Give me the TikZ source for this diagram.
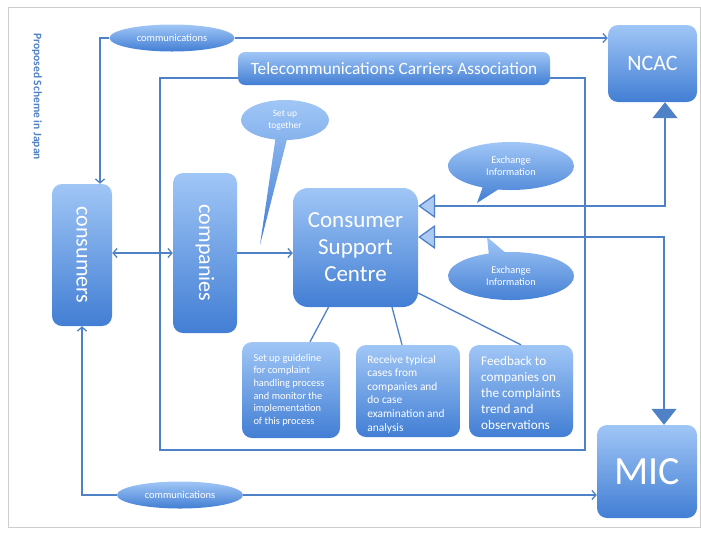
\documentclass[tikz,border=0pt]{standalone}
\usepackage{fontspec}
\setmainfont{Carlito}
\usetikzlibrary{arrows.meta,shapes.callouts,shapes.geometric,calc}
\definecolor{boxtop}{RGB}{160,198,246}
\definecolor{boxbot}{RGB}{66,126,212}
\definecolor{ln}{RGB}{79,129,199}
\definecolor{trifill}{RGB}{172,202,242}
\definecolor{framec}{RGB}{205,205,205}
\begin{document}
\begin{tikzpicture}[x=1pt,y=-1pt,
  box/.style={rounded corners=10pt, top color=boxtop, bottom color=boxbot, draw=none, text=white, inner sep=0pt},
  bub/.style={ellipse callout, top color=boxtop, bottom color=boxbot, text=white, inner sep=0pt, align=center},
  oval/.style={ellipse, top color=boxtop, bottom color=boxbot, text=white, inner sep=0pt},
  cn/.style={draw=ln, line width=1.3pt},
  arr/.style={cn, -{Straight Barb[length=4pt,width=9pt,line width=1.3pt]}},
  dbl/.style={cn, {Straight Barb[length=4pt,width=9pt,line width=1.3pt]}-{Straight Barb[length=4pt,width=9pt,line width=1.3pt]}},
  bigtri/.style={cn, {Triangle[open,length=17pt,width=24pt,fill=trifill,line width=1.3pt]}-{Triangle[length=16pt,width=25pt,fill=ln]}},
  small/.style={text=white, align=left, inner sep=0pt}
]
\useasboundingbox (0,0) rectangle (701,539);
\draw[framec, line width=1pt] (8,7) rectangle (700,527);

% side title
\node[rotate=-90, anchor=west, text=ln, inner sep=0pt, font=\fontsize{11.5}{13}\selectfont\bfseries] (title) at (37,33) {Proposed Scheme in Japan};

% TCA frame
\draw[cn] (160,78) rectangle (585,450);

% main boxes
\node[box, minimum width=89pt, minimum height=77pt, font=\fontsize{22}{26}\selectfont] (ncac) at (652.5,63.5) {NCAC};
\node[box, minimum width=100pt, minimum height=93pt, font=\fontsize{40}{46}\selectfont] (mic) at (647,471.5) {MIC};
\node[box, rounded corners=7pt, minimum width=312pt, minimum height=33pt, font=\fontsize{17.3}{20}\selectfont] (tca) at (394,68.5) {Telecommunications Carriers Association};
\node[box, minimum width=60pt, minimum height=142pt] (cons) at (82,255) {};
\node[rotate=-90, text=white, inner sep=0pt, font=\fontsize{22}{24}\selectfont] (consT) at (cons) {consumers};
\node[box, minimum width=64pt, minimum height=160pt] (comp) at (205,253) {};
\node[rotate=-90, text=white, inner sep=0pt, font=\fontsize{22}{24}\selectfont] (compT) at (comp) {companies};
\node[box, rounded corners=15pt, minimum width=125pt, minimum height=119pt, align=center, font=\fontsize{23}{27}\selectfont] (csc) at (355.5,247.5) {Consumer\\Support\\Centre};

% bottom boxes
\node[box, minimum width=98pt, minimum height=96pt] (b1) at (291,390) {};
\node[small, font=\fontsize{10.4}{12.6}\selectfont] (b1T) at ($(b1)+(-2,0)$) {Set up guideline\\for complaint\\handling process\\and monitor the\\implementation\\of this process};
\node[box, minimum width=104pt, minimum height=92pt] (b2) at (408,391) {};
\node[small, font=\fontsize{11.4}{13.6}\selectfont] (b2T) at ($(b2)+(-2,3)$) {Receive typical\\cases from\\companies and\\do case\\examination and\\analysis};
\node[box, minimum width=104pt, minimum height=92pt] (b3) at (521,391) {};
\node[small, font=\fontsize{13.2}{15.8}\selectfont] (b3T) at ($(b3)+(0,2)$) {Feedback to\\companies on\\the complaints\\trend and\\observations};

% callouts
\node[bub, minimum width=88pt, minimum height=40pt, callout absolute pointer={(260,245)}, font=\fontsize{9.5}{12}\selectfont] (setup) at (285,120) {Set up\\together};
\node[bub, minimum width=126pt, minimum height=48pt, callout absolute pointer={(477,203)}, font=\fontsize{10.3}{12.5}\selectfont] (ex1) at (511,166) {Exchange\\Information};
\node[bub, minimum width=126pt, minimum height=48pt, callout absolute pointer={(487,237)}, font=\fontsize{10.3}{12.5}\selectfont] (ex2) at (511,276) {Exchange\\Information};

% communications ovals
\node[oval, minimum width=125pt, minimum height=27pt, font=\fontsize{10.5}{12}\selectfont] (cm1) at (172,38) {communications};
\node[oval, minimum width=126pt, minimum height=27pt, font=\fontsize{10.5}{12}\selectfont] (cm2) at (180,495) {communications};

% connectors
\draw[arr] (cm1.west) -| ($(cons.north)+(18,0)$);
\draw[arr] (cm1.east) -- (cm1.east -| ncac.west);
\draw[arr] (cm2.west) -| (cons.south);
\draw[arr] (cm2.east) -- (cm2.east -| mic.west);
\draw[dbl] (cons.east |- 0,253) -- (comp.west |- 0,253);
\draw[arr] (comp.east) -- (comp.east -| csc.west);

\coordinate (r1) at (665,206);
\coordinate (r2) at (664,237);
\draw[bigtri] (r1 -| csc.east) -- (r1) -- (r1 |- ncac.south);
\draw[bigtri] (r2 -| csc.east) -- (r2) -- (r2 |- mic.north);

\draw[cn] ($(csc.south)+(-27,0)$) -- ($(b1.north)+(19,0)$);
\draw[cn] ($(csc.south)+(36.5,0)$) -- ($(b2.north)+(-6,0)$);
\draw[cn] ($(csc.east)+(0,45.5)$) -- (b3.north);
\end{tikzpicture}
\end{document}
